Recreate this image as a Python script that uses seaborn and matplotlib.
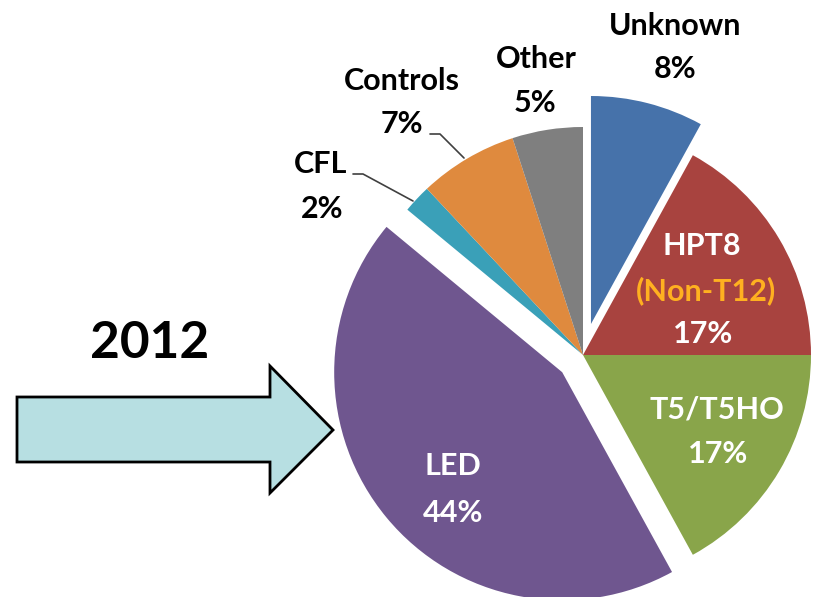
import matplotlib
matplotlib.use("Agg")
import matplotlib.pyplot as plt
from matplotlib.patches import Polygon
import seaborn as sns

# ---- data ----
categories = ["Unknown", "HPT8", "T5/T5HO", "LED", "CFL", "Controls", "Other"]
values = [8, 17, 17, 44, 2, 7, 5]
colors = ["#4672AA", "#A8433F", "#89A54A", "#6F568F", "#3AA0B8", "#DF8A3E", "#7F7F7F"]
explode_px = [32, 0, 0, 27, 0, 0, 0]
year_label = "2012"
hpt8_note = "(Non-T12)"

sns.set_theme(style="white")
plt.rcParams['font.family'] = ['Lato', 'DejaVu Sans']

W, H = 813, 597
fig = plt.figure(figsize=(W / 100, H / 100), dpi=100)
ax = fig.add_axes([0, 0, 1, 1])

def Y(y):
    return H - y

R = 228
cx, cy = 583, 355
ax.pie(values, colors=colors, startangle=90, counterclock=False,
       radius=R, center=(cx, Y(cy)), explode=explode_px,
       wedgeprops=dict(linewidth=0))
ax.set_xlim(0, W)
ax.set_ylim(0, H)
ax.set_aspect('equal')
ax.axis('off')

fs = 22
def txt(x, ybase, s, color="black", size=fs):
    ax.text(x, Y(ybase), s, ha='center', va='baseline', fontsize=size,
            fontweight='bold', color=color)

# outside labels
txt(675, 35, categories[0]); txt(675, 78, f"{values[0]}%")
txt(536, 68, categories[6]); txt(535, 112, f"{values[6]}%")
txt(402, 90, categories[5]); txt(402, 133, f"{values[5]}%")
txt(321, 173, categories[4]); txt(322, 218, f"{values[4]}%")

# inside labels
txt(702, 255, categories[1], color="white")
txt(706, 300, hpt8_note, color="#FFB020")
txt(703, 343, f"{values[1]}%", color="white")
txt(717, 418, categories[2], color="white")
txt(718, 463, f"{values[2]}%", color="white")
txt(453, 475, categories[3], color="white")
txt(453, 522, f"{values[3]}%", color="white")

# leader lines
ax.plot([430, 440, 464], [Y(134), Y(134), Y(158)], color="#404040", lw=1.2)
ax.plot([353, 363, 413], [Y(174), Y(174), Y(201)], color="#404040", lw=1.2)

# year label and arrow
txt(150, 358, year_label, size=37)
arrow = Polygon([(17, Y(397)), (270, Y(397)), (270, Y(366)), (333, Y(430)),
                 (270, Y(493)), (270, Y(462)), (17, Y(462))], closed=True,
                facecolor="#B7DFE2", edgecolor="black", linewidth=2)
ax.add_patch(arrow)

fig.savefig("out.png", dpi=100, facecolor="white")
